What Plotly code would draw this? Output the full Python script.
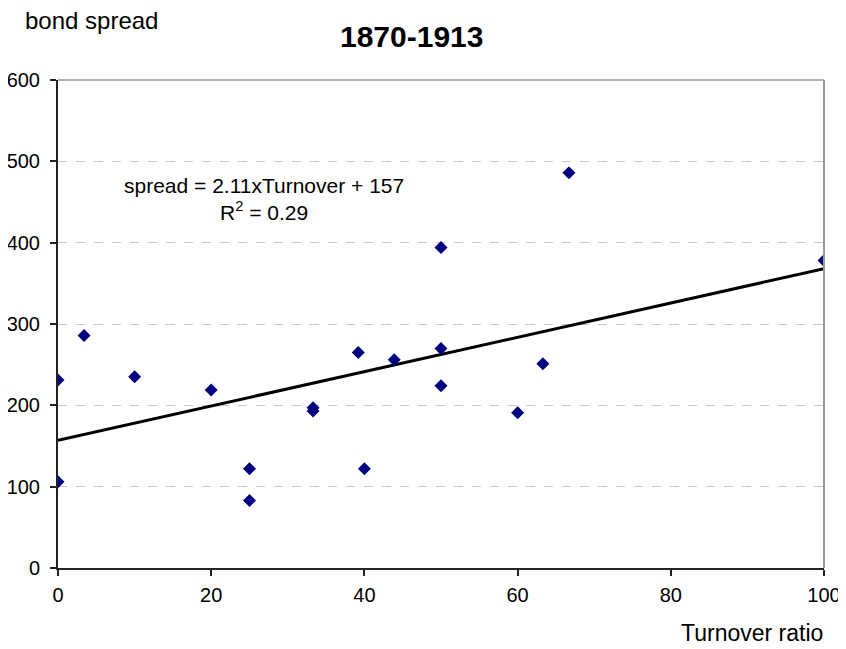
import plotly.graph_objects as go

turnover = [0, 0, 3.4, 10, 20, 25, 25, 33.3, 33.3, 39.2, 40, 43.9, 50, 50, 50, 60, 63.3, 66.7, 100]
spread = [231, 106, 286, 235, 219, 122, 83, 193, 197, 265, 122, 256, 270, 224, 394, 191, 251, 486, 378]

slope = 2.11
intercept = 157
trend_x = [0, 100]
trend_y = [intercept + slope * v for v in trend_x]

x_ticks = [0, 20, 40, 60, 80, 100]
y_ticks = [0, 100, 200, 300, 400, 500, 600]

FONT = "Arial, 'Liberation Sans', sans-serif"

# page has an 8px default body margin; figure is sized to fill the rest
fig = go.Figure()
fig.add_trace(go.Scatter(x=trend_x, y=trend_y, mode="lines",
                         line=dict(color="black", width=3), hoverinfo="skip"))
fig.add_trace(go.Scatter(x=turnover, y=spread, mode="markers",
                         marker=dict(symbol="diamond", color="#000080", size=10,
                                     line=dict(width=0))))

PW, PH = 766, 488
fig.update_layout(
    width=838, height=641,
    margin=dict(l=50, r=22, t=72, b=81, pad=0, autoexpand=False),
    paper_bgcolor="white", plot_bgcolor="white",
    showlegend=False,
    font=dict(family=FONT, color="black", size=20),
    xaxis=dict(range=[0, 100], tickvals=x_ticks, showgrid=False, zeroline=False,
               automargin=False,
               showline=True, linecolor="#222222", linewidth=2,
               ticks="outside", ticklen=6, tickcolor="#222222", tickwidth=1.5,
               ticklabelstandoff=2, tickfont=dict(size=20)),
    yaxis=dict(range=[0, 600], tickvals=y_ticks, showgrid=True,
               automargin=False,
               gridcolor="#c8c8c8", griddash="dash", gridwidth=1, zeroline=False,
               showline=True, linecolor="#222222", linewidth=2,
               ticks="outside", ticklen=6, tickcolor="#222222", tickwidth=1.5,
               ticklabelstandoff=6, tickfont=dict(size=20)),
    shapes=[
        dict(type="line", xref="paper", yref="paper", x0=0, x1=1, y0=1, y1=1,
             line=dict(color="#999999", width=1.5)),
        dict(type="line", xref="paper", yref="paper", x0=1, x1=1, y0=0, y1=1,
             line=dict(color="#999999", width=2)),
    ],
    annotations=[
        dict(text="<b>1870-1913</b>", xref="paper", yref="paper",
             x=(411 - 58) / PW, y=1 + (80 - 37) / PH, xanchor="center", yanchor="middle",
             showarrow=False, font=dict(size=30)),
        dict(text="bond spread", xref="paper", yref="paper",
             x=(23 - 58) / PW, y=1 + (80 - 21) / PH, xanchor="left", yanchor="middle",
             showarrow=False, font=dict(size=24)),
        dict(text="Turnover ratio", xref="paper", yref="paper",
             x=(825 - 58) / PW, y=-(633 - 568) / PH, xanchor="right", yanchor="middle",
             showarrow=False, font=dict(size=23)),
        dict(text="spread = 2.11xTurnover + 157<br>R<sup>2</sup> = 0.29", xref="paper", yref="paper",
             x=(264 - 58) / PW, y=(568 - 199) / PH, xanchor="center", yanchor="middle",
             showarrow=False, align="center", font=dict(size=21)),
    ],
)

fig.write_html("out.html")
